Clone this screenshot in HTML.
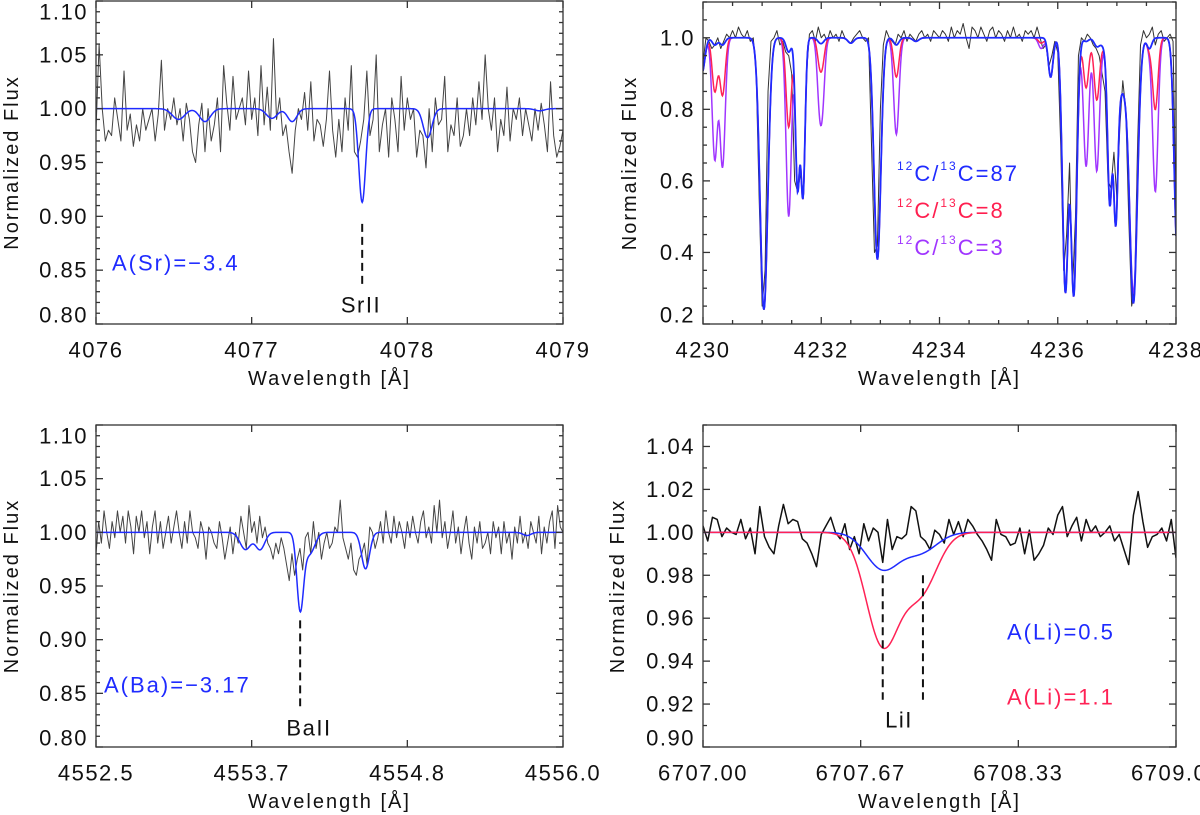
<!DOCTYPE html>
<html><head><meta charset="utf-8"><title>Spectra</title>
<style>
html,body{margin:0;padding:0;background:#fff;}
svg{display:block;font-family:"Liberation Sans",sans-serif;}
.tl{font-size:22px;letter-spacing:1.5px;fill:#111;}
.at{font-size:20px;letter-spacing:2px;fill:#111;}
.an{font-size:22px;letter-spacing:2px;}
</style></head>
<body>
<svg id="fig" width="1200" height="815" viewBox="0 0 1200 815">
  <rect x="0" y="0" width="1200" height="815" fill="#fff"/>
  <text class="an" x="112" y="263" fill="#1f2bff" dominant-baseline="central">A(Sr)=−3.4</text>
  <text class="tl" x="361" y="305" text-anchor="middle" dominant-baseline="central">SrII</text>
  <text class="an" x="104" y="685" fill="#1f2bff" dominant-baseline="central">A(Ba)=−3.17</text>
  <text class="tl" x="309" y="728" text-anchor="middle" dominant-baseline="central">BaII</text>
  <text class="an" x="897" y="173" fill="#1f2bff" dominant-baseline="central"><tspan font-size="12" dy="-7">12</tspan><tspan dy="7">C/</tspan><tspan font-size="12" dy="-7">13</tspan><tspan dy="7">C=87</tspan></text>
  <text class="an" x="897" y="210" fill="#ff1f4f" dominant-baseline="central"><tspan font-size="12" dy="-7">12</tspan><tspan dy="7">C/</tspan><tspan font-size="12" dy="-7">13</tspan><tspan dy="7">C=8</tspan></text>
  <text class="an" x="897" y="247" fill="#a035ff" dominant-baseline="central"><tspan font-size="12" dy="-7">12</tspan><tspan dy="7">C/</tspan><tspan font-size="12" dy="-7">13</tspan><tspan dy="7">C=3</tspan></text>
  <text class="an" x="1007" y="632" fill="#1f2bff" dominant-baseline="central">A(Li)=0.5</text>
  <text class="an" x="1007" y="697" fill="#ff2255" dominant-baseline="central">A(Li)=1.1</text>
  <text class="tl" x="899" y="720" text-anchor="middle" dominant-baseline="central">LiI</text>
</svg>
<script>
// ---------- Panel 1 (Sr II) data ----------
const P1_X_RANGE = [4076, 4079];
const P1_Y_RANGE = [0.80, 1.10];
const P1_X_TICKS = [4076, 4077, 4078, 4079];
const P1_X_TICK_LABELS = ["4076", "4077", "4078", "4079"];
const P1_Y_TICKS = [0.80, 0.85, 0.90, 0.95, 1.00, 1.05, 1.10];
const P1_Y_TICK_LABELS = ["0.80", "0.85", "0.90", "0.95", "1.00", "1.05", "1.10"];
const P1_OBS_FLUX = [0.98,1.06,1.00,0.97,0.98,0.975,1.01,0.99,0.97,1.035,0.98,0.995,0.965,0.985,0.97,1.00,0.98,0.99,1.00,0.97,0.995,
1.045,0.98,1.00,0.99,1.01,0.985,1.00,0.97,1.005,0.99,0.96,0.95,0.985,1.005,0.96,1.00,0.97,0.985,1.01,0.96,
1.04,1.005,0.98,1.03,0.99,1.00,1.01,0.985,1.035,0.99,1.01,0.975,1.04,0.985,1.02,0.98,1.065,0.99,1.01,0.975,
0.985,0.96,0.94,0.98,1.00,0.99,1.015,0.98,1.025,0.97,0.99,0.985,0.965,0.99,1.035,0.98,0.955,0.99,0.96,1.01,
0.98,1.04,0.96,0.955,0.97,0.99,1.035,0.975,0.99,1.05,0.96,0.985,1.00,0.955,1.01,0.99,0.96,1.03,0.98,1.01,
0.99,1.00,0.955,0.98,0.975,0.945,1.00,0.96,1.01,0.985,0.99,1.03,0.96,0.985,0.975,1.01,0.965,0.975,1.00,0.975,
1.01,0.985,1.025,0.99,1.05,1.00,0.98,1.01,0.96,0.99,0.975,1.02,0.97,1.00,0.99,1.01,0.975,1.00,0.985,0.97,
1.00,0.98,1.005,0.985,0.96,1.025,0.975,0.955,0.965,0.98];
const P1_LINE_CENTERS = [4076.53,4076.70,4077.13,4077.26,4077.71,4078.13,4078.85];
const P1_LINE_DEPTHS = [0.010,0.012,0.009,0.012,0.087,0.027,0.002];
const P1_LINE_SIGMAS = [0.040,0.035,0.035,0.030,0.022,0.028,0.030];
const P1_MARKER = [4077.71, 0.893, 0.835];

// ---------- Panel 2 (CH, 12C/13C) data ----------
const P2_X_RANGE = [4230, 4238];
const P2_Y_RANGE = [0.20, 1.10];
const P2_X_TICKS = [4230, 4232, 4234, 4236, 4238];
const P2_X_TICK_LABELS = ["4230", "4232", "4234", "4236", "4238"];
const P2_Y_TICKS = [0.2, 0.4, 0.6, 0.8, 1.0];
const P2_Y_TICK_LABELS = ["0.2", "0.4", "0.6", "0.8", "1.0"];
const P2_OBS_FLUX = [0.93,1.0,0.99,0.97,0.98,1.0,0.97,0.99,1.01,1.0,1.02,1.0,1.03,1.01,1.0,1.02,0.99,1.0,0.9,0.55,
0.25,0.35,0.85,0.99,1.0,1.02,0.98,0.99,0.96,0.95,0.9,0.6,0.57,0.62,0.56,0.9,1.01,1.02,0.99,1.03,
1.0,1.01,0.99,1.02,1.0,1.01,0.99,1.02,1.0,0.99,0.985,1.0,1.01,1.02,1.0,0.99,1.0,0.7,0.4,0.42,
0.8,0.98,1.02,1.0,0.99,0.98,1.01,1.0,1.02,0.99,1.01,1.0,0.99,1.01,1.02,1.0,1.01,0.99,1.02,1.01,
1.0,1.02,1.01,0.99,1.03,1.0,1.02,1.01,1.04,1.0,0.97,1.03,1.02,1.0,1.03,1.01,0.99,1.02,1.03,1.0,
1.02,1.01,0.99,1.02,1.0,1.03,1.0,1.01,0.99,1.02,1.01,1.02,1.0,1.03,1.0,0.97,0.98,0.92,0.95,0.99,
0.96,0.7,0.35,0.45,0.65,0.3,0.5,0.95,1.0,0.99,1.01,1.0,0.98,0.97,0.95,0.9,0.85,0.6,0.58,0.68,
0.55,0.75,0.88,0.8,0.5,0.25,0.3,0.7,0.98,1.02,1.0,1.01,1.03,0.98,1.01,1.02,0.99,1.0,1.01,0.99,
0.5];
const P2_LINE_CENTERS = [4229.98,4230.20,4230.33,4231.03,4231.45,4231.60,4231.69,4231.97,4232.02,4232.50,4232.95,4233.27,4233.60,4235.72,4235.88,4236.13,4236.27,4236.48,4236.66,4236.88,4236.98,4237.05,4237.28,4237.55,4237.65,4238.02];
const P2_DEPTHS_87 = [0.10,0.02,0.02,0.76,0.04,0.42,0.44,0.01,0.01,0.015,0.62,0.02,0.01,0.00,0.11,0.71,0.72,0.01,0.02,0.42,0.45,0.15,0.73,0.03,0.00,0.60];
const P2_DEPTHS_8  = [0.10,0.15,0.16,0.76,0.25,0.42,0.44,0.06,0.06,0.015,0.62,0.11,0.01,0.015,0.11,0.71,0.72,0.14,0.17,0.42,0.45,0.15,0.73,0.03,0.20,0.60];
const P2_DEPTHS_3  = [0.10,0.34,0.36,0.76,0.50,0.42,0.44,0.16,0.16,0.015,0.62,0.27,0.01,0.03,0.11,0.71,0.72,0.36,0.37,0.42,0.45,0.15,0.70,0.03,0.43,0.60];
const P2_LINE_SIGMAS = [0.05,0.045,0.045,0.065,0.045,0.036,0.036,0.04,0.04,0.05,0.058,0.045,0.05,0.045,0.04,0.05,0.05,0.045,0.045,0.036,0.036,0.15,0.065,0.04,0.045,0.05];

// ---------- Panel 3 (Ba II) data ----------
const P3_X_RANGE = [4552.5, 4556.0];
const P3_Y_RANGE = [0.80, 1.10];
const P3_X_TICKS = [4552.5, 4553.6667, 4554.8333, 4556.0];
const P3_X_TICK_LABELS = ["4552.5", "4553.7", "4554.8", "4556.0"];
const P3_Y_TICKS = [0.80, 0.85, 0.90, 0.95, 1.00, 1.05, 1.10];
const P3_Y_TICK_LABELS = ["0.80", "0.85", "0.90", "0.95", "1.00", "1.05", "1.10"];
const P3_OBS_FLUX = [0.98,1.01,0.99,1.02,1.00,0.985,1.01,0.995,1.02,1.00,1.015,0.99,1.02,1.005,0.98,1.015,1.00,1.02,0.995,1.01,0.98,1.005,1.02,0.99,1.01,0.985,1.00,1.015,0.99,1.005,1.02,1.00,0.985,1.01,0.99,1.02,1.00,0.995,0.985,1.01,
1.00,0.975,1.005,1.00,0.99,0.985,1.01,0.995,0.975,0.99,1.005,0.98,1.00,0.99,1.015,1.00,0.985,1.025,1.00,1.01,0.99,1.015,0.995,1.005,0.99,0.985,0.975,0.99,0.98,0.995,
0.985,0.97,0.955,0.98,0.96,0.975,0.985,0.965,0.995,1.00,0.98,1.01,0.985,1.00,0.975,0.99,1.00,0.985,0.99,1.005,
1.00,1.03,0.995,0.985,0.975,0.99,0.965,0.96,0.975,0.98,0.99,0.97,1.005,1.00,0.985,0.995,1.01,0.99,1.02,1.00,
0.99,1.015,0.995,1.01,1.00,0.985,1.01,0.995,1.015,1.00,0.99,1.01,1.02,0.995,1.005,0.99,1.025,1.00,1.03,0.995,1.01,0.985,1.00,1.02,0.99,1.005,0.98,1.00,1.015,0.99,0.975,1.005,0.99,1.01,0.985,0.99,1.00,0.98,1.01,0.995,1.005,0.98,1.01,0.99,1.00,0.975,1.005,0.99,1.015,0.99,1.00,0.985,1.01,1.00,0.99,1.015,0.98,1.005,0.99,1.01,1.02,0.985,1.025,1.005,1.00];
const P3_LINE_CENTERS = [4553.62,4553.73,4554.03,4554.10,4554.52,4555.73];
const P3_LINE_DEPTHS = [0.016,0.016,0.070,0.020,0.034,0.003];
const P3_LINE_SIGMAS = [0.040,0.035,0.025,0.040,0.030,0.030];
const P3_MARKER = [4554.03, 0.918, 0.838];

// ---------- Panel 4 (Li I) data ----------
const P4_X_RANGE = [6707.0, 6709.0];
const P4_Y_RANGE = [0.90, 1.05];
const P4_X_TICKS = [6707.0, 6707.6667, 6708.3333, 6709.0];
const P4_X_TICK_LABELS = ["6707.00", "6707.67", "6708.33", "6709.00"];
const P4_Y_TICKS = [0.90, 0.92, 0.94, 0.96, 0.98, 1.00, 1.02, 1.04];
const P4_Y_TICK_LABELS = ["0.90", "0.92", "0.94", "0.96", "0.98", "1.00", "1.02", "1.04"];
const P4_OBS_FLUX = [1.003,0.996,1.007,1.006,0.998,1.002,1.000,0.999,1.006,0.997,1.002,
0.990,1.012,0.998,0.993,0.990,1.003,1.013,1.004,1.006,1.005,
0.997,0.995,0.990,0.984,0.999,1.003,1.007,1.000,0.997,1.004,
0.992,0.998,0.990,1.004,0.996,1.002,1.000,0.986,1.006,0.992,
0.998,0.997,0.999,1.012,1.010,0.998,0.996,0.992,1.001,0.999,
0.995,1.006,0.999,1.005,0.998,1.006,1.003,0.999,0.996,0.992,
0.987,1.006,0.999,0.998,0.994,0.995,1.002,0.990,1.001,0.987,
0.990,0.994,1.002,0.999,1.008,1.012,0.998,1.003,1.007,0.996,
1.006,1.000,1.003,0.998,1.000,1.003,0.996,0.999,0.992,0.985,
1.008,1.019,1.005,0.993,0.998,0.999,1.002,0.996,1.006,0.988];
const P4_LINE_CENTERS = [6707.76, 6707.92];
const P4_DEPTHS_05 = [0.017, 0.009];
const P4_DEPTHS_11 = [0.052, 0.027];
const P4_LINE_SIGMAS = [0.07, 0.07];
const P4_MARKERS_X = [6707.76, 6707.93];
const P4_MARKER_Y = [0.980, 0.922];

// ---------- drawing ----------
const NS = "http://www.w3.org/2000/svg";
const svg = document.getElementById("fig");
function el(tag, attrs, parent) {
  const e = document.createElementNS(NS, tag);
  for (const k in attrs) e.setAttribute(k, attrs[k]);
  (parent || svg).appendChild(e);
  return e;
}
function model(centers, depths, sigmas, x) {
  let f = 1;
  for (let i = 0; i < centers.length; i++) {
    const d = x - centers[i];
    f *= 1 - depths[i] * Math.exp(-d * d / (2 * sigmas[i] * sigmas[i]));
  }
  return f;
}
function panel(name, box, xr, yr, xt, xtl, yt, ytl, yMinor, xMinor, titleX) {
  const g = el("g", {});
  
  
  const sx = v => box.l + (v - xr[0]) / (xr[1] - xr[0]) * (box.r - box.l);
  const sy = v => box.b - (v - yr[0]) / (yr[1] - yr[0]) * (box.b - box.t);
  const clip = el("clipPath", {id: name + "-clip"}, g);
  el("rect", {x: box.l, y: box.t, width: box.r - box.l, height: box.b - box.t}, clip);
  const plot = el("g", {"clip-path": "url(#" + name + "-clip)"}, g);
  
  
  const ax = el("g", {stroke: "#333", "stroke-width": 1.3, fill: "none"}, g);
  
  
  const ny = Math.round((yr[1] - yr[0]) / yMinor);
  for (let i = 0; i <= ny; i++) {
    const v = yr[0] + i * yMinor;
    const major = yt.some(t => Math.abs(t - v) < yMinor / 10);
    const len = major ? 7 : 4;
    const y = sy(v);
    el("line", {x1: box.l, y1: y, x2: box.l + len, y2: y}, ax);
    el("line", {x1: box.r, y1: y, x2: box.r - len, y2: y}, ax);
  }
  const xs = xMinor ? [] : xt.slice();
  if (xMinor) { const n = Math.round((xr[1] - xr[0]) / xMinor); for (let i = 0; i <= n; i++) xs.push(xr[0] + i * xMinor); }
  xs.forEach(v => {
    const major = xt.some(t => Math.abs(t - v) < 1e-3);
    const len = major ? 7 : 4;
    const x = sx(v);
    el("line", {x1: x, y1: box.b, x2: x, y2: box.b - len}, ax);
    el("line", {x1: x, y1: box.t, x2: x, y2: box.t + len}, ax);
  });
  el("rect", {x: box.l, y: box.t, width: box.r - box.l, height: box.b - box.t}, ax);
  yt.forEach((v, i) => {
    const y = Math.min(Math.max(sy(v), box.t + 11), box.b - 9);
    const t = el("text", {x: box.l - 8, y: y, "text-anchor": "end", "dominant-baseline": "central", class: "tl"}, g);
    
    
    t.textContent = ytl[i];
  });
  xt.forEach((v, i) => {
    const t = el("text", {x: sx(v), y: box.b + 26, "text-anchor": "middle", "dominant-baseline": "central", class: "tl"}, g);
    
    
    t.textContent = xtl[i];
  });
  const xtitle = el("text", {x: (box.l + box.r) / 2, y: box.b + 55, "text-anchor": "middle", "dominant-baseline": "central", class: "at"}, g);
  
  
  xtitle.textContent = "Wavelength [Å]";
  const cy = (box.t + box.b) / 2;
  const ytitle = el("text", {x: titleX, y: cy, "text-anchor": "middle", "dominant-baseline": "central", class: "at", transform: "rotate(-90 " + titleX + " " + cy + ")"}, g);
  
  
  ytitle.textContent = "Normalized Flux";
  return {sx, sy, plot, g};
}
function obsPath(p, xr, flux, name, color, w) {
  let d = "";
  flux.forEach((f, i) => {
    const x = xr[0] + i * (xr[1] - xr[0]) / (flux.length - 1);
    d += (i ? "L" : "M") + p.sx(x).toFixed(2) + "," + p.sy(f).toFixed(2);
  });
  const e = el("path", {d: d, fill: "none", stroke: color, "stroke-width": w, "stroke-linejoin": "round"}, p.plot);
  
  
}
function modelPath(p, xr, centers, depths, sigmas, name, color, w) {
  const n = 900;
  let d = "";
  for (let i = 0; i <= n; i++) {
    const x = xr[0] + i * (xr[1] - xr[0]) / n;
    d += (i ? "L" : "M") + p.sx(x).toFixed(2) + "," + p.sy(model(centers, depths, sigmas, x)).toFixed(2);
  }
  const e = el("path", {d: d, fill: "none", stroke: color, "stroke-width": w}, p.plot);
  
  
}
function marker(p, x, y1, y2, name) {
  const e = el("line", {x1: p.sx(x), y1: p.sy(y1), x2: p.sx(x), y2: p.sy(y2), stroke: "#111", "stroke-width": 2, "stroke-dasharray": "8,5"}, p.g);
  
  
}

const BLUE = "#1f2bff", RED = "#ff2255", PURPLE = "#a035ff";

const p1 = panel("panel-sr", {l: 96, t: 1, r: 563, b: 324}, P1_X_RANGE, P1_Y_RANGE, P1_X_TICKS, P1_X_TICK_LABELS, P1_Y_TICKS, P1_Y_TICK_LABELS, 0.01, 0, 12);
obsPath(p1, P1_X_RANGE, P1_OBS_FLUX, "observed-spectrum-sr", "#444", 1);
modelPath(p1, P1_X_RANGE, P1_LINE_CENTERS, P1_LINE_DEPTHS, P1_LINE_SIGMAS, "synthetic-spectrum-sr", BLUE, 1.5);
marker(p1, P1_MARKER[0], P1_MARKER[1], P1_MARKER[2], "srii-marker");

const p2 = panel("panel-ch", {l: 703, t: 2, r: 1176, b: 324}, P2_X_RANGE, P2_Y_RANGE, P2_X_TICKS, P2_X_TICK_LABELS, P2_Y_TICKS, P2_Y_TICK_LABELS, 0.05, 0.5, 630);
obsPath(p2, P2_X_RANGE, P2_OBS_FLUX, "observed-spectrum-ch", "#333", 1);
modelPath(p2, P2_X_RANGE, P2_LINE_CENTERS, P2_DEPTHS_3, P2_LINE_SIGMAS, "synthetic-ratio-3", PURPLE, 1.5);
modelPath(p2, P2_X_RANGE, P2_LINE_CENTERS, P2_DEPTHS_8, P2_LINE_SIGMAS, "synthetic-ratio-8", RED, 1.5);
modelPath(p2, P2_X_RANGE, P2_LINE_CENTERS, P2_DEPTHS_87, P2_LINE_SIGMAS, "synthetic-ratio-87", BLUE, 1.8);

const p3 = panel("panel-ba", {l: 96, t: 425, r: 563, b: 747}, P3_X_RANGE, P3_Y_RANGE, P3_X_TICKS, P3_X_TICK_LABELS, P3_Y_TICKS, P3_Y_TICK_LABELS, 0.01, 0, 12);
obsPath(p3, P3_X_RANGE, P3_OBS_FLUX, "observed-spectrum-ba", "#444", 1);
modelPath(p3, P3_X_RANGE, P3_LINE_CENTERS, P3_LINE_DEPTHS, P3_LINE_SIGMAS, "synthetic-spectrum-ba", BLUE, 1.5);
marker(p3, P3_MARKER[0], P3_MARKER[1], P3_MARKER[2], "baii-marker");

const p4 = panel("panel-li", {l: 703, t: 425, r: 1176, b: 747}, P4_X_RANGE, P4_Y_RANGE, P4_X_TICKS, P4_X_TICK_LABELS, P4_Y_TICKS, P4_Y_TICK_LABELS, 0.01, 0, 618);
obsPath(p4, P4_X_RANGE, P4_OBS_FLUX, "observed-spectrum-li", "#111", 1.5);
modelPath(p4, P4_X_RANGE, P4_LINE_CENTERS, P4_DEPTHS_05, P4_LINE_SIGMAS, "synthetic-li-05", BLUE, 1.5);
modelPath(p4, P4_X_RANGE, P4_LINE_CENTERS, P4_DEPTHS_11, P4_LINE_SIGMAS, "synthetic-li-11", RED, 1.5);
P4_MARKERS_X.forEach(x => marker(p4, x, P4_MARKER_Y[0], P4_MARKER_Y[1], "lii-marker"));
</script>
</body></html>
